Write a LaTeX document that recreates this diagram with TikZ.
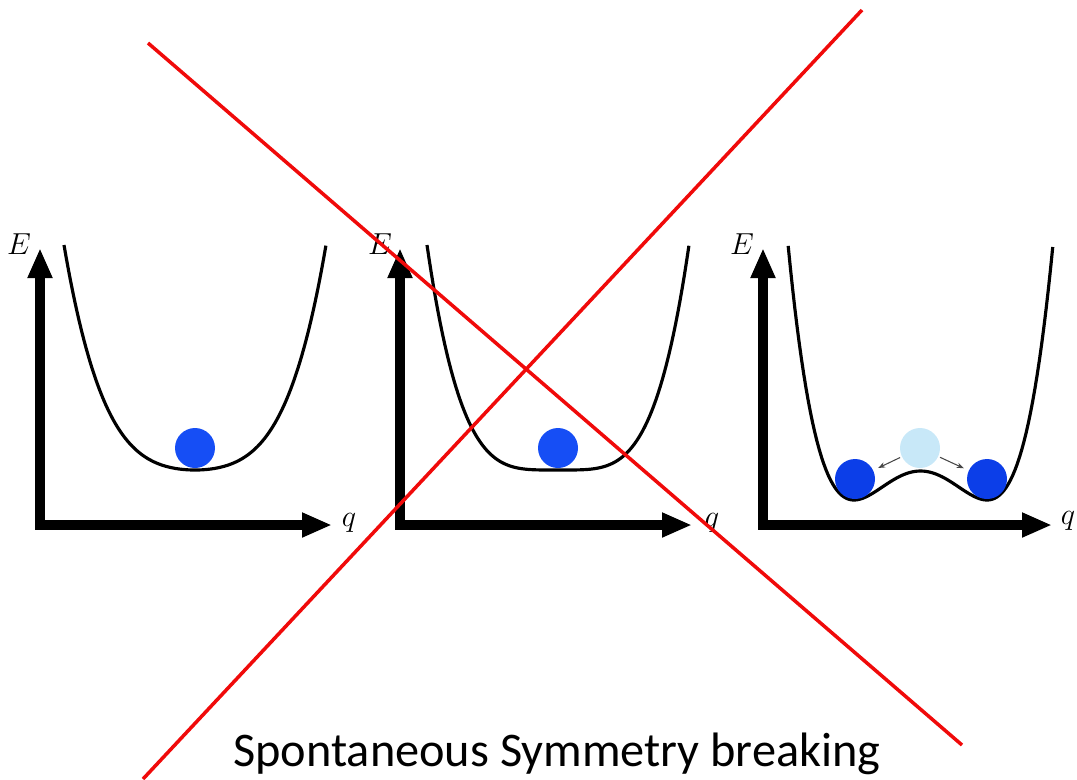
\documentclass[tikz,border=0pt]{standalone}
\usepackage{fontspec}
\newfontfamily\calfont{Carlito}
\usetikzlibrary{arrows.meta}

\tikzset{
  axis/.style={line width=0.2cm, line join=miter, {Triangle[length=0.6cm,width=0.46cm]}-{Triangle[length=0.6cm,width=0.46cm]}},
  well/.style={line width=1.8pt, samples=120},
  ball/.style={circle, inner sep=0pt, minimum size=0.8cm},
  lbl/.style={font=\fontsize{17}{20}\selectfont},
  cross/.style={myred, line width=2pt},
}

\begin{document}
\begin{tikzpicture}[x=0.02cm, y=-0.02cm]
    \definecolor{myred}{RGB}{240,10,10}
    \definecolor{myball}{RGB}{22,78,245}
    \definecolor{mydark}{RGB}{12,62,232}
    \definecolor{mylight}{RGB}{200,232,248}
    \definecolor{mygray}{RGB}{70,70,70}

    \useasboundingbox (0,0) rectangle (1077,779);

    % single well
    \draw[axis] (40,248) -- (40,525) -- (332,525);
    \node[lbl] (E1) at (19,244) {$E$};
    \node[lbl] (q1) at (349,523) {$q$};
    \draw[well, domain=-1:1] plot ({195+131*\x}, {470-225*(0.3*\x*\x+0.7*\x*\x*\x*\x)});
    \node[ball, fill=myball] (b1) at (195,448) {};

    % flat well
    \draw[axis] (400,248) -- (400,525) -- (692,525);
    \node[lbl] (E2) at (380,244) {$E$};
    \node[lbl] (q2) at (712,523) {$q$};
    \draw[well, domain=-1:1] plot ({558+131*\x}, {470-225*\x*\x*\x*\x});
    \node[ball, fill=myball] (b2) at (558,448) {};

    % double well
    \draw[axis] (763,248) -- (763,525) -- (1052,525);
    \node[lbl] (E3) at (742,244) {$E$};
    \node[lbl] (q3) at (1068,521) {$q$};
    \draw[well, domain=-1.99:1.99] plot ({920.5+66.5*\x}, {500-29*(\x*\x-1)*(\x*\x-1)});
    \node[ball, fill=mylight] (top) at (920,448) {};
    \node[ball, fill=mydark] (left) at (855,479) {};
    \node[ball, fill=mydark] (right) at (987,479) {};
    \draw[-{Stealth[length=4pt]}, mygray, line width=0.6pt, shorten <=1pt, shorten >=3pt] (top) -- (left);
    \draw[-{Stealth[length=4pt]}, mygray, line width=0.6pt, shorten <=1pt, shorten >=3pt] (top) -- (right);

    % the cross
    \draw[cross] (148,43) -- (962,745);
    \draw[cross] (862,10) -- (143,779);

    \node[font=\calfont\fontsize{27.5}{32}\selectfont] (title) at (557,754) {Spontaneous Symmetry breaking};
\end{tikzpicture}
\end{document}
